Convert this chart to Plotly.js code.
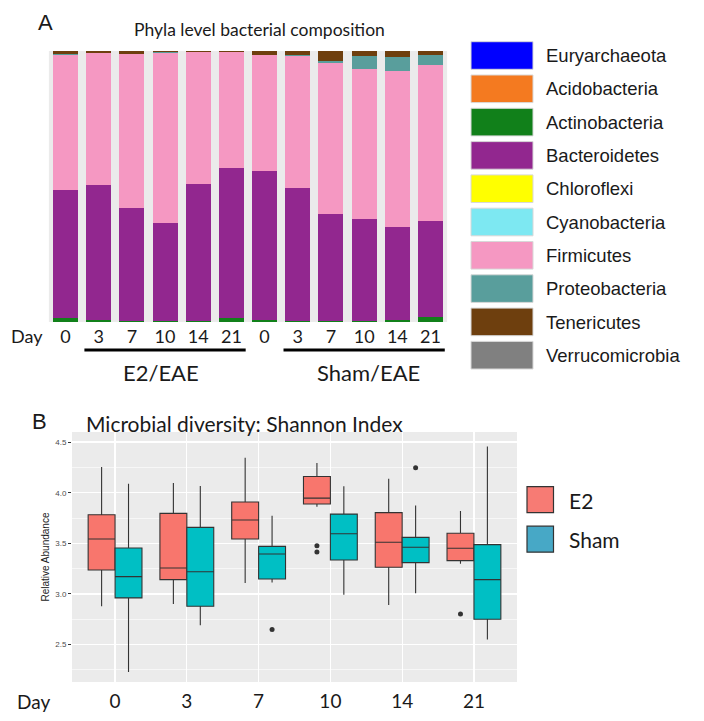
<!DOCTYPE html>
<html>
<head>
<meta charset="utf-8">
<script src="https://cdn.plot.ly/plotly-3.0.1.min.js"></script>
<style>html,body{margin:0;padding:0;background:#fff;}#chart{width:704px;height:721px;}</style>
</head>
<body>
<div id="chart"></div>
<script>
// ---------- Panel A data ----------
const phyla = ['Euryarchaeota','Acidobacteria','Actinobacteria','Bacteroidetes','Chloroflexi','Cyanobacteria','Firmicutes','Proteobacteria','Tenericutes','Verrucomicrobia'];
const phylaColors = ['#0000FF','#F47A20','#11801A','#92278F','#FFFF00','#7DE8F2','#F598C2','#599E9C','#6E3F0E','#808080'];
const sampleIds = ['E2 d0','E2 d3','E2 d7','E2 d10','E2 d14','E2 d21','Sham d0','Sham d3','Sham d7','Sham d10','Sham d14','Sham d21'];
const sampleDays = ['0','3','7','10','14','21','0','3','7','10','14','21'];
const groupNames = ['E2/EAE','Sham/EAE'];
const euryarchaeota   = [0,0,0,0,0,0,0,0,0,0,0,0];
const acidobacteria   = [0,0,0,0,0,0,0,0,0,0,0,0];
const actinobacteria  = [0.015,0.008,0.003,0.002,0.003,0.015,0.006,0.002,0.005,0.003,0.008,0.018];
const bacteroidetes   = [0.471,0.496,0.418,0.362,0.506,0.552,0.551,0.494,0.395,0.377,0.341,0.353];
const chloroflexi     = [0,0,0,0,0,0,0,0,0,0,0,0];
const cyanobacteria   = [0,0,0,0,0,0,0,0,0,0,0.002,0];
const firmicutes      = [0.501,0.487,0.568,0.630,0.486,0.428,0.427,0.486,0.555,0.554,0.575,0.577];
const proteobacteria  = [0.002,0.001,0.001,0.001,0.001,0.001,0.002,0.003,0.008,0.049,0.053,0.037];
const tenericutes     = [0.011,0.008,0.010,0.005,0.004,0.004,0.014,0.015,0.037,0.017,0.021,0.015];
const verrucomicrobia = [0,0,0,0,0,0,0,0,0,0,0,0];
const phylaValues = [euryarchaeota,acidobacteria,actinobacteria,bacteroidetes,chloroflexi,cyanobacteria,firmicutes,proteobacteria,tenericutes,verrucomicrobia];

// ---------- Panel B data ----------
const days = ['0','3','7','10','14','21'];
const e2Upper  = [4.253,4.095,4.345,4.293,4.138,3.819];
const e2Q3     = [3.783,3.796,3.908,4.161,3.803,3.599];
const e2Median = [3.543,3.257,3.730,3.947,3.510,3.451];
const e2Q1     = [3.237,3.141,3.543,3.888,3.263,3.329];
const e2Lower  = [2.878,2.901,3.109,3.862,2.891,3.299];
const shamUpper  = [4.089,4.066,3.773,4.063,3.875,4.457];
const shamQ3     = [3.454,3.658,3.470,3.789,3.559,3.487];
const shamMedian = [3.171,3.220,3.395,3.595,3.461,3.141];
const shamQ1     = [2.961,2.878,3.148,3.336,3.309,2.750];
const shamLower  = [2.230,2.691,3.112,2.993,3.007,2.549];
const e2OutlierDays = ['10','10','21'];
const e2OutlierVals = [3.477,3.414,2.803];
const shamOutlierDays = ['7','14'];
const shamOutlierVals = [2.648,4.247];
const sigDays = ['7','10'];
const sigLabel = '*';
const groupsB = ['E2','Sham'];
const colorsB = ['#F8766D','#00BFC4'];
const legendColorsB = ['#F77B74','#47A8C6'];

// ---------- helpers ----------
const W = 704, H = 721;
const px = x => x / W;
const py = y => 1 - y / H;

const traces = [];
phyla.forEach((name, i) => {
  traces.push({
    type: 'bar', name: name, x: sampleIds, y: phylaValues[i],
    marker: {color: phylaColors[i], line: {width: 0}},
    xaxis: 'x', yaxis: 'y', showlegend: false, hoverinfo: 'x+y+name'
  });
});

const boxLine = {color: '#333333', width: 1.1};
traces.push({
  type: 'box', name: groupsB[0], x: days, q1: e2Q1, median: e2Median, q3: e2Q3,
  lowerfence: e2Lower, upperfence: e2Upper, fillcolor: colorsB[0], line: boxLine,
  whiskerwidth: 0, boxpoints: false, xaxis: 'x2', yaxis: 'y2', showlegend: false
});
traces.push({
  type: 'box', name: groupsB[1], x: days, q1: shamQ1, median: shamMedian, q3: shamQ3,
  lowerfence: shamLower, upperfence: shamUpper, fillcolor: colorsB[1], line: boxLine,
  whiskerwidth: 0, boxpoints: false, xaxis: 'x2', yaxis: 'y2', showlegend: false
});
traces.push({
  type: 'scatter', mode: 'markers', name: 'E2 outliers', x: e2OutlierDays, y: e2OutlierVals,
  offsetgroup: 'E2', alignmentgroup: 'out', orientation: 'v',
  marker: {color: '#333333', size: 5}, xaxis: 'x2', yaxis: 'y2', showlegend: false
});
traces.push({
  type: 'scatter', mode: 'markers', name: 'Sham outliers', x: shamOutlierDays, y: shamOutlierVals,
  offsetgroup: 'Sham', alignmentgroup: 'out', orientation: 'v',
  marker: {color: '#333333', size: 5}, xaxis: 'x2', yaxis: 'y2', showlegend: false
});

const shapes = [];
const annotations = [];

// Panel A legend
phyla.forEach((name, i) => {
  const top = 41.7 + 33.3 * i;
  shapes.push({type: 'rect', xref: 'paper', yref: 'paper',
    x0: px(471), x1: px(533), y0: py(top), y1: py(top + 27.6),
    fillcolor: phylaColors[i], line: {color: '#D8D8D8', width: 1}});
  annotations.push({xref: 'paper', yref: 'paper', x: px(544), y: py(top + 14),
    xanchor: 'left', yanchor: 'middle', showarrow: false, text: name,
    font: {family: 'Liberation Sans, Arial, sans-serif', size: 18.5, color: '#1a1a1a'}});
});

// Panel A group lines & labels
const groupSpans = [[1, 5], [7, 11]];
const groupLabelX = [161, 368];
groupSpans.forEach((s, i) => {
  shapes.push({type: 'line', xref: 'x', yref: 'paper',
    x0: s[0] - 0.43, x1: s[1] + 0.43, y0: py(350), y1: py(350),
    line: {color: '#000', width: 3}});
  annotations.push({xref: 'paper', yref: 'paper', x: px(groupLabelX[i]), y: py(372),
    xanchor: 'center', yanchor: 'middle', showarrow: false, text: groupNames[i],
    font: {family: 'Lato, sans-serif', size: 22, color: '#1a1a1a'}});
});
annotations.push({xref: 'paper', yref: 'paper', x: px(27), y: py(336), xanchor: 'center', yanchor: 'middle',
  showarrow: false, text: 'Day', font: {family: 'Lato, sans-serif', size: 18, color: '#1a1a1a'}});
annotations.push({xref: 'paper', yref: 'paper', x: px(45), y: py(23), xanchor: 'center', yanchor: 'middle',
  showarrow: false, text: 'A', font: {family: 'Liberation Sans, Arial, sans-serif', size: 22, color: '#1a1a1a'}});
annotations.push({xref: 'paper', yref: 'paper', x: px(259), y: py(30), xanchor: 'center', yanchor: 'middle',
  showarrow: false, text: 'Phyla level bacterial composition', font: {family: 'Lato, sans-serif', size: 17.5, color: '#1a1a1a'}});

// Panel B labels
annotations.push({xref: 'paper', yref: 'paper', x: px(39), y: py(421), xanchor: 'center', yanchor: 'middle',
  showarrow: false, text: 'B', font: {family: 'Liberation Sans, Arial, sans-serif', size: 22, color: '#1a1a1a'}});
annotations.push({xref: 'paper', yref: 'paper', x: px(84), y: py(423), xanchor: 'left', yanchor: 'middle',
  showarrow: false, text: 'Microbial diversity: Shannon Index', font: {family: 'Lato, sans-serif', size: 21, color: '#1a1a1a'}});
annotations.push({xref: 'paper', yref: 'paper', x: px(33), y: py(701), xanchor: 'center', yanchor: 'middle',
  showarrow: false, text: 'Day', font: {family: 'Lato, sans-serif', size: 19, color: '#1a1a1a'}});
const sigShift = [-3, 8];
sigDays.forEach((d, i) => {
  annotations.push({xref: 'x2', yref: 'y2', x: d, y: 4.43, xshift: sigShift[i], yshift: -4,
    xanchor: 'center', yanchor: 'middle', showarrow: false, text: sigLabel,
    font: {family: 'Liberation Sans, Arial, sans-serif', size: 24, color: '#1a1a1a'}});
});
// Panel B legend
groupsB.forEach((g, i) => {
  const top = 486.7 + 39.5 * i;
  shapes.push({type: 'rect', xref: 'paper', yref: 'paper',
    x0: px(527), x1: px(553.5), y0: py(top), y1: py(top + 26),
    fillcolor: legendColorsB[i], line: {color: '#333333', width: 1.2}});
  annotations.push({xref: 'paper', yref: 'paper', x: px(567), y: py(top + 13.5),
    xanchor: 'left', yanchor: 'middle', showarrow: false, text: g,
    font: {family: 'Lato, sans-serif', size: 21, color: '#1a1a1a'}});
});

const layout = {
  width: W, height: H,
  margin: {l: 0, r: 0, t: 0, b: 0},
  paper_bgcolor: '#ffffff',
  showlegend: false,
  barmode: 'stack', bargap: 0.246,
  boxmode: 'group', boxgap: 0.25, boxgroupgap: 0,
  scattermode: 'group', scattergap: 0.25,
  font: {family: 'Lato, sans-serif', color: '#1a1a1a'},
  xaxis: {
    domain: [px(48.9), px(447.1)], anchor: 'y', type: 'category',
    range: [-0.5, 11.5], tickmode: 'array', tickvals: sampleIds, ticktext: sampleDays,
    showgrid: false, zeroline: false, showline: false, ticks: '',
    tickfont: {family: 'Lato, sans-serif', size: 18, color: '#1a1a1a'},
    ticklabelstandoff: 2, fixedrange: true
  },
  yaxis: {
    domain: [py(322), py(51)], anchor: 'x', range: [0, 1],
    visible: false, showgrid: false, zeroline: false, fixedrange: true
  },
  xaxis2: {
    domain: [px(72), px(517)], anchor: 'y2', type: 'category',
    range: [-0.6, 5.6], categoryorder: 'array', categoryarray: days,
    showgrid: true, gridcolor: '#FFFFFF', gridwidth: 1.3, zeroline: false, showline: false, ticks: '',
    tickfont: {family: 'Lato, sans-serif', size: 19, color: '#1a1a1a'},
    ticklabelstandoff: 6, fixedrange: true
  },
  yaxis2: {
    domain: [py(682), py(432)], anchor: 'x2', range: [2.13, 4.60],
    tickmode: 'array', tickvals: [2.5, 3.0, 3.5, 4.0, 4.5], ticktext: ['2.5','3.0','3.5','4.0','4.5'],
    ticks: 'outside', ticklen: 3, tickcolor: '#333333', tickwidth: 1,
    tickfont: {family: 'Liberation Sans, Arial, sans-serif', size: 8, color: '#4D4D4D'},
    showgrid: true, gridcolor: '#FFFFFF', gridwidth: 1.3, zeroline: false, showline: false,
    minor: {tickmode: 'array', tickvals: [2.25, 2.75, 3.25, 3.75, 4.25], showgrid: true, gridcolor: '#FFFFFF', gridwidth: 0.6, ticks: ''},
    title: {text: 'Relative Abundance', standoff: 3, font: {family: 'Liberation Sans, Arial, sans-serif', size: 10, color: '#1a1a1a'}},
    automargin: false, fixedrange: true
  },
  plot_bgcolor: '#EBEBEB',
  shapes: shapes,
  annotations: annotations
};

Plotly.newPlot('chart', traces, layout, {displayModeBar: false, staticPlot: true});
</script>
</body>
</html>
